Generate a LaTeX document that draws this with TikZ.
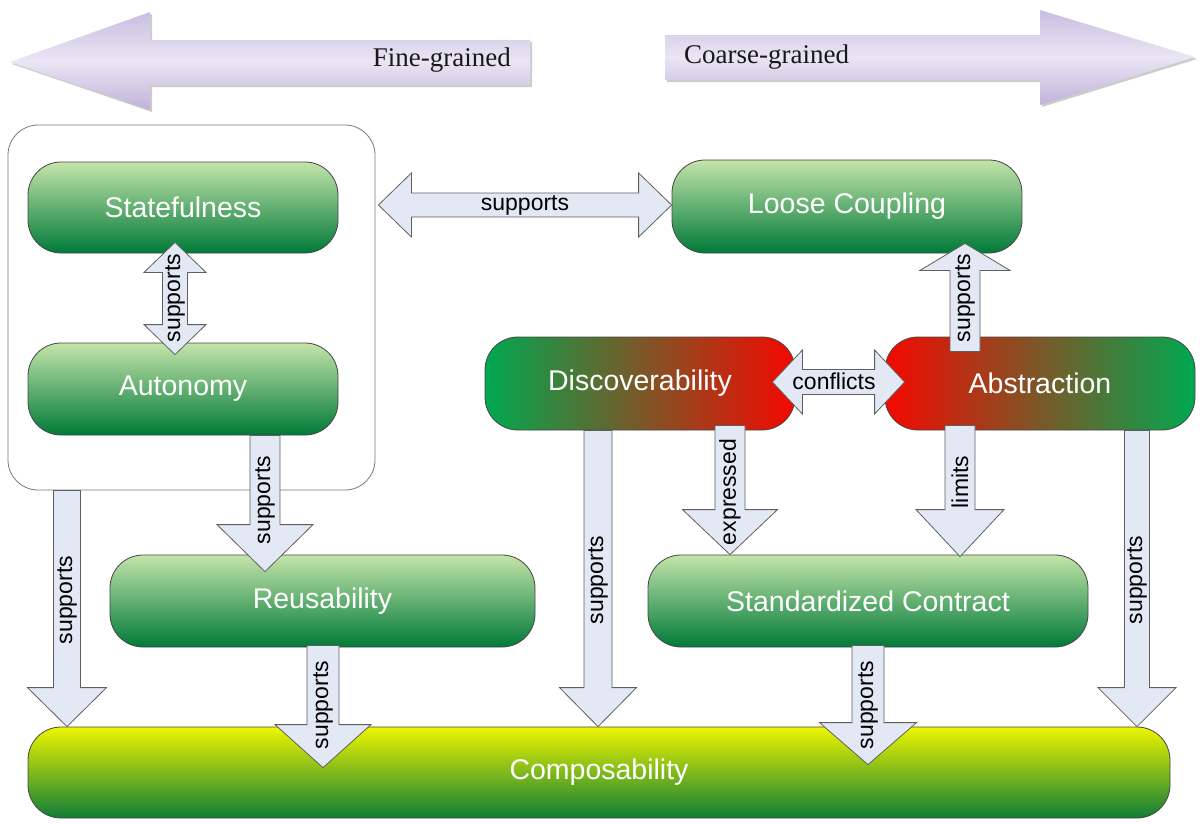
\documentclass[tikz,border=0pt]{standalone}
\usepackage{fontspec}
\setmainfont{Liberation Sans}
\newfontfamily\serfont{Liberation Serif}
\usetikzlibrary{calc,shadows}
\definecolor{gtop}{RGB}{196,228,170}
\definecolor{gbot}{RGB}{0,122,56}
\definecolor{ytop}{RGB}{238,245,0}
\definecolor{ymid}{RGB}{150,200,20}
\definecolor{ybot}{RGB}{15,125,55}
\definecolor{dgreen}{RGB}{0,168,80}
\definecolor{dred}{RGB}{245,8,0}
\definecolor{arrfill}{RGB}{226,233,245}
\definecolor{arrline}{RGB}{95,95,95}
\definecolor{nodeline}{RGB}{70,70,70}
\definecolor{grpline}{RGB}{120,120,120}
\definecolor{lavtop}{RGB}{200,190,224}
\definecolor{lavmid}{RGB}{234,230,244}
\definecolor{lavbot}{RGB}{190,178,216}
\definecolor{sertext}{RGB}{25,25,25}

\tikzset{
 principle/.style={rectangle, rounded corners=33pt, draw=nodeline, line width=0.8pt,
   text=white, font=\fontsize{28.5}{32}\selectfont, inner sep=0pt},
 greenbox/.style={principle, top color=gtop, bottom color=gbot},
 barrow/.style={draw=arrline, fill=arrfill, line width=0.8pt, line join=miter},
 lbl/.style={font=\fontsize{23}{26}\selectfont, text=black, inner sep=0pt},
 vlbl/.style={lbl, rotate=90},
 bigarrow/.style={draw=none, top color=lavtop, bottom color=lavbot, middle color=lavmid,
   drop shadow={shadow xshift=2pt, shadow yshift=-2pt, opacity=0.4, fill=gray}},
 grainlbl/.style={font=\serfont\fontsize{27}{30}\selectfont, text=sertext, inner sep=0pt},
}

% single vertical block arrow: start, tip, shaft half, head half, head length
\newcommand\varrow[5]{%
 \path[barrow] let \p1=(#1), \p2=(#2), \n1={sign(\y2-\y1)} in
 ({\x1-#3},\y1) -- ({\x1-#3},{\y2-(\n1)*#5}) -- ({\x1-#4},{\y2-(\n1)*#5}) -- (\x1,\y2)
 -- ({\x1+#4},{\y2-(\n1)*#5}) -- ({\x1+#3},{\y2-(\n1)*#5}) -- ({\x1+#3},\y1) -- cycle;}
% double vertical block arrow: top tip, bottom tip
\newcommand\vdarrow[5]{%
 \path[barrow] let \p1=(#1), \p2=(#2) in
 (\x1,\y1) -- ({\x1+#4},{\y1-#5}) -- ({\x1+#3},{\y1-#5}) -- ({\x1+#3},{\y2+#5}) -- ({\x1+#4},{\y2+#5})
 -- (\x1,\y2) -- ({\x1-#4},{\y2+#5}) -- ({\x1-#3},{\y2+#5}) -- ({\x1-#3},{\y1-#5}) -- ({\x1-#4},{\y1-#5}) -- cycle;}
% double horizontal block arrow: left tip, right tip
\newcommand\hdarrow[5]{%
 \path[barrow] let \p1=(#1), \p2=(#2) in
 (\x1,\y1) -- ({\x1+#5},{\y1+#4}) -- ({\x1+#5},{\y1+#3}) -- ({\x2-#5},{\y1+#3}) -- ({\x2-#5},{\y1+#4})
 -- (\x2,\y1) -- ({\x2-#5},{\y1-#4}) -- ({\x2-#5},{\y1-#3}) -- ({\x1+#5},{\y1-#3}) -- ({\x1+#5},{\y1-#4}) -- cycle;}

\begin{document}
\begin{tikzpicture}[x=1pt,y=-1pt]
\useasboundingbox (0,0) rectangle (1200,823);

% granularity arrows
\path[bigarrow] (10,62) -- (150,12) -- (150,40) -- (530,40) -- (530,85) -- (150,85) -- (150,110) -- cycle;
\node[grainlbl, anchor=east] (fine) at (511,60) {Fine-grained};
\path[bigarrow] (665,35) -- (1040,35) -- (1040,10) -- (1195,57) -- (1040,105) -- (1040,80) -- (665,80) -- cycle;
\node[grainlbl, anchor=west] (coarse) at (684,57) {Coarse-grained};

% group box
\node[draw=grpline, line width=0.8pt, rounded corners=30pt, minimum width=367pt, minimum height=365pt] (group) at (191.5,307.5) {};

% principles
\node[greenbox, minimum width=310pt, minimum height=91pt] (stateful) at (183,207.5) {Statefulness};
\node[greenbox, minimum width=310pt, minimum height=92pt] (autonomy) at (183,389) {Autonomy};
\node[greenbox, minimum width=350pt, minimum height=93pt] (loose) at (847,206.5) {Loose Coupling};
\node[principle, left color=dgreen, right color=dred, minimum width=310pt, minimum height=93pt] (disc) at (640,383.5) {Discoverability};
\node[principle, left color=dred, right color=dgreen, minimum width=310pt, minimum height=93pt] (abstr) at (1040,383.5) {Abstraction};
\node[greenbox, minimum width=425pt, minimum height=92pt] (reuse) at (322.5,601) {Reusability};
\node[greenbox, minimum width=440pt, minimum height=92pt] (std) at (868,601) {Standardized Contract};
\node[principle, top color=ytop, middle color=ymid, bottom color=ybot, minimum width=1142pt, minimum height=91pt] (comp) at (599,772.5) {Composability};

% connector end points
\coordinate (sa1) at ($(stateful.south)+(-8,-11)$);
\coordinate (sa2) at ($(autonomy.north)+(-8,12)$);
\coordinate (h1) at ($(group.east |- loose.west)+(3,-1.5)$);
\coordinate (h2) at ($(loose.west)+(0,-1.5)$);
\coordinate (ar1) at ($(autonomy.south)+(82,0)$);
\coordinate (ar2) at ($(reuse.north)+(-57.5,17)$);
\coordinate (gc1) at ($(group.south)+(-124.5,0)$);
\coordinate (gc2) at ($(comp.north west)+(39,0)$);
\coordinate (rc1) at ($(reuse.south)+(0.5,-2)$);
\coordinate (rc2) at ($(comp.north)+(-276,41)$);
\coordinate (dc1) at ($(disc.south)+(-42,0)$);
\coordinate (dc2) at ($(comp.north)+(-1,0)$);
\coordinate (ds1) at ($(disc.south)+(90,-5)$);
\coordinate (ds2) at ($(std.north)+(-138,0)$);
\coordinate (as1) at ($(abstr.south)+(-80,-5)$);
\coordinate (as2) at ($(std.north)+(92,2)$);
\coordinate (al1) at ($(abstr.north)+(-75,15)$);
\coordinate (al2) at ($(loose.south)+(118,-10)$);
\coordinate (ac1) at ($(abstr.south)+(97,0)$);
\coordinate (ac2) at ($(comp.north east)+(-33,0)$);
\coordinate (sc1) at ($(std.south)+(0,-2)$);
\coordinate (sc2) at ($(comp.north)+(269,38)$);
\coordinate (cf1) at ($(disc.east)+(-23,-1.5)$);
\coordinate (cf2) at ($(abstr.west)+(20,-1.5)$);

% connectors
\vdarrow{sa1}{sa2}{12.5pt}{31pt}{30pt}
\hdarrow{h1}{h2}{12pt}{32pt}{33pt}
\varrow{ar1}{ar2}{15pt}{48pt}{47pt}
\varrow{gc1}{gc2}{13.5pt}{39.5pt}{39pt}
\varrow{rc1}{rc2}{16pt}{48pt}{43pt}
\varrow{dc1}{dc2}{14pt}{38.5pt}{39pt}
\varrow{ds1}{ds2}{15pt}{47.5pt}{45pt}
\varrow{as1}{as2}{15pt}{44pt}{47pt}
\varrow{al1}{al2}{15pt}{45pt}{27pt}
\varrow{ac1}{ac2}{12.5pt}{39pt}{39pt}
\varrow{sc1}{sc2}{16pt}{48.5pt}{42pt}
\hdarrow{cf1}{cf2}{12.5pt}{32pt}{30pt}

% connector labels
\node[vlbl] (lsa) at (175,298) {supports};
\node[lbl] (lh) at (525,205) {supports};
\node[vlbl] (lar) at (265,500) {supports};
\node[vlbl] (lgc) at (67,600) {supports};
\node[vlbl] (lrc) at (323,705) {supports};
\node[vlbl] (ldc) at (598,580) {supports};
\node[vlbl] (lds) at (730,492) {expressed};
\node[vlbl] (las) at (960,482) {limits};
\node[vlbl] (lal) at (965,298) {supports};
\node[vlbl] (lac) at (1137,580) {supports};
\node[vlbl] (lsc) at (868,705) {supports};
\node[lbl] (lcf) at (834,381) {conflicts};
\end{tikzpicture}
\end{document}
